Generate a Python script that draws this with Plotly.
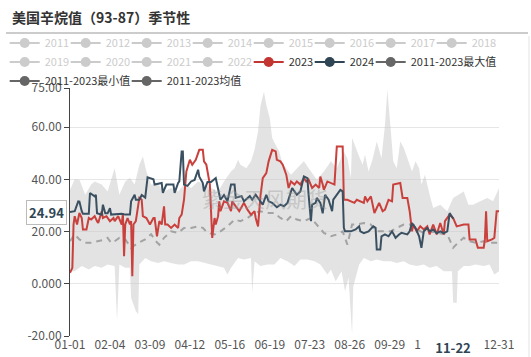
import numpy as np
import plotly.graph_objects as go

# ---------------- data (day index from 01-01, value) ----------------
years_hidden = ["2011", "2012", "2013", "2014", "2015", "2016", "2017", "2018",
                "2019", "2020", "2021", "2022"]

d2024 = [0, 4, 7, 8, 10, 11, 16, 17, 21, 22,
         23, 27, 28, 30, 32, 34, 35, 44, 47, 51,
         52, 55, 56, 59, 61, 64, 66, 71, 72, 78,
         79, 82, 88, 89, 92, 93, 95, 96, 97, 100,
         103, 106, 109, 110, 113, 114, 117, 120, 124, 126,
         128, 131, 134, 137, 140, 141, 146, 148, 153, 155,
         158, 161, 164, 167, 169, 172, 176, 179, 182, 185,
         189, 193, 196, 199, 202, 203, 205, 206, 209, 210,
         213, 215, 217, 220, 223, 224, 227, 230, 232, 233,
         234, 239, 243, 246, 247, 250, 254, 258, 260, 261,
         264, 265, 268, 271, 274, 277, 280, 282, 287, 289,
         291, 294, 297, 299, 301, 304, 306, 309, 312, 315,
         318, 321, 323, 326]
v2024 = [27.5, 27.8, 31.6, 31.5, 27.8, 26.8, 26.8, 34.8, 33.5, 34.1,
         27.0, 26.5, 30.3, 27.0, 27.0, 29.0, 26.5, 26.8, 26.5, 26.5,
         31.6, 34.1, 32.2, 32.2, 34.0, 33.0, 40.8, 40.0, 38.0, 38.6,
         34.8, 38.0, 38.0, 34.8, 38.6, 39.2, 50.7, 50.7, 38.0, 37.5,
         39.2, 39.8, 43.7, 41.0, 38.6, 35.4, 39.0, 39.0, 40.5, 36.7,
         32.2, 34.0, 31.6, 38.0, 38.0, 33.0, 33.6, 31.6, 33.6, 32.2,
         34.1, 32.2, 30.3, 34.1, 31.6, 31.0, 29.3, 30.3, 29.7, 31.0,
         36.7, 34.1, 35.4, 41.1, 40.5, 34.1, 24.0, 30.3, 31.0, 32.9,
         31.0, 27.0, 34.1, 32.2, 27.8, 32.2, 34.1, 36.0, 35.4, 21.4,
         20.1, 20.1, 20.8, 22.0, 20.1, 19.4, 20.1, 22.0, 21.4, 13.1,
         13.1, 18.2, 18.9, 18.2, 20.1, 17.6, 18.9, 19.5, 18.9, 20.1,
         23.3, 21.4, 18.2, 13.8, 20.1, 21.4, 20.1, 20.8, 19.4, 20.1,
         19.4, 20.1, 27.1, 24.94]

d2023 = [0, 2, 3, 4, 6, 7, 8, 10, 11, 14,
         16, 18, 21, 23, 24, 27, 28, 31, 34, 37,
         38, 41, 44, 45, 46, 47, 49, 51, 52, 53,
         54, 56, 59, 61, 62, 65, 68, 71, 72, 74,
         76, 78, 80, 81, 83, 86, 89, 92, 93, 95,
         97, 99, 102, 104, 107, 110, 113, 114, 116, 119,
         120, 121, 123, 124, 126, 127, 128, 131, 134, 137,
         138, 141, 144, 148, 151, 154, 157, 158, 160, 162,
         164, 167, 169, 172, 175, 176, 179, 181, 184, 186,
         188, 191, 193, 196, 199, 201, 203, 206, 209, 212,
         213, 215, 216, 219, 222, 225, 227, 232, 233, 236,
         239, 242, 244, 247, 250, 251, 253, 256, 259, 263,
         266, 268, 271, 274, 275, 281, 283, 287, 289, 291,
         292, 295, 298, 301, 304, 306, 309, 312, 315, 318,
         319, 323, 326, 329, 335, 339, 340, 345, 347, 352,
         353, 354, 355, 359, 361, 363, 365]
v2023 = [4.2, 6.1, 22.7, 25.9, 22.7, 24.6, 27.1, 25.2, 20.8, 20.8,
         25.2, 24.6, 25.9, 24.0, 23.3, 27.8, 25.2, 25.9, 24.0, 25.2,
         24.0, 25.9, 22.7, 27.1, 10.6, 22.7, 25.2, 22.7, 24.0, 2.9,
         22.7, 24.0, 32.9, 32.2, 25.9, 25.2, 22.7, 25.2, 25.2, 18.2,
         24.0, 22.7, 29.7, 22.7, 22.7, 21.4, 22.7, 21.4, 25.2, 26.5,
         32.2, 43.0, 47.5, 45.6, 47.5, 51.3, 51.3, 46.9, 45.6, 38.0,
         27.8, 17.6, 25.2, 22.7, 25.9, 31.6, 27.8, 31.6, 31.0, 27.8,
         31.6, 29.7, 27.8, 31.0, 28.4, 26.5, 27.8, 25.2, 22.0, 33.5,
         40.5, 42.4, 46.9, 51.3, 50.7, 47.5, 46.9, 45.6, 41.8, 36.7,
         39.2, 38.0, 39.2, 38.0, 40.5, 39.2, 39.9, 36.7, 38.0, 36.7,
         41.1, 38.0, 36.0, 39.2, 38.6, 38.0, 52.6, 52.6, 32.2, 32.2,
         31.6, 31.0, 32.2, 31.6, 31.0, 33.5, 31.6, 33.5, 27.1, 31.0,
         27.8, 28.4, 32.2, 31.6, 38.0, 38.6, 32.9, 32.9, 27.8, 20.1,
         22.7, 20.1, 22.0, 20.8, 22.0, 18.9, 22.7, 18.9, 23.3, 18.9,
         24.0, 26.5, 25.2, 22.0, 22.7, 22.7, 17.0, 17.0, 13.8, 13.8,
         17.0, 27.8, 16.3, 17.0, 17.6, 27.8, 27.8]

d_mean = [0, 4, 8, 13, 18, 24, 30, 32, 35, 38,
          42, 47, 52, 58, 64, 69, 73, 76, 80, 86,
          92, 97, 103, 109, 113, 117, 123, 128, 134, 140,
          145, 151, 157, 162, 168, 174, 179, 184, 188, 193,
          199, 205, 210, 216, 222, 227, 232, 236, 240, 244,
          250, 256, 261, 267, 273, 278, 284, 289, 295, 301,
          306, 312, 321, 326, 330, 335, 340, 345, 352, 357,
          365]
v_mean = [16.3, 18.9, 17.0, 15.7, 15.7, 16.3, 17.0, 17.6, 15.7, 16.3,
          17.6, 17.0, 13.8, 15.7, 17.0, 19.0, 16.3, 15.0, 17.6, 20.1,
          19.5, 21.4, 21.4, 22.0, 21.4, 19.5, 18.9, 20.1, 22.0, 24.6,
          24.0, 25.2, 27.1, 27.8, 27.1, 27.1, 25.2, 24.0, 25.9, 24.6,
          24.0, 25.2, 22.7, 19.5, 18.2, 18.9, 20.1, 15.0, 22.7, 22.7,
          23.3, 22.7, 20.1, 20.1, 20.1, 21.4, 22.7, 22.7, 20.8, 19.5,
          20.1, 19.5, 18.9, 13.8, 15.7, 17.6, 16.3, 15.7, 16.3, 15.7,
          15.7]

d_max = [0, 4, 8, 13, 18, 21, 27, 32, 38, 42,
         47, 51, 55, 59, 62, 65, 69, 75, 80, 86,
         92, 97, 103, 109, 114, 120, 126, 131, 137, 140,
         143, 145, 150, 154, 157, 160, 162, 165, 167, 170,
         172, 175, 178, 181, 184, 188, 193, 199, 205, 210,
         216, 222, 227, 233, 236, 239, 240, 243, 246, 249,
         251, 254, 257, 261, 265, 268, 270, 273, 275, 278,
         281, 284, 287, 291, 294, 297, 299, 302, 306, 309,
         315, 321, 326, 330, 335, 339, 343, 349, 355, 360,
         365]
v_max = [36.0, 40.0, 39.9, 34.1, 38.0, 39.2, 38.0, 35.4, 44.3, 34.1,
         39.2, 40.5, 38.0, 45.6, 48.8, 43.0, 38.0, 38.0, 35.4, 36.7,
         35.4, 38.0, 36.7, 39.2, 38.0, 36.7, 35.4, 39.2, 43.0, 44.3,
         47.5, 45.6, 44.3, 46.9, 51.3, 58.3, 67.9, 73.6, 68.5, 63.4,
         55.8, 53.2, 50.7, 45.6, 44.3, 41.8, 44.3, 46.9, 43.0, 39.9,
         43.0, 46.9, 44.3, 50.7, 48.1, 40.5, 55.8, 52.0, 48.8, 45.6,
         49.4, 43.0, 46.9, 54.5, 48.1, 60.9, 74.3, 58.3, 46.9, 44.3,
         54.5, 52.0, 48.1, 43.0, 46.9, 44.3, 38.0, 41.8, 34.1, 29.0,
         30.3, 27.8, 32.9, 34.1, 35.4, 30.3, 30.3, 31.6, 32.9, 31.6,
         36.7]

d_min = [0, 4, 10, 16, 21, 27, 32, 38, 40, 42,
         47, 51, 52, 54, 56, 58, 59, 64, 69, 75,
         80, 86, 92, 97, 103, 109, 114, 120, 126, 131,
         134, 137, 143, 148, 154, 155, 157, 162, 168, 174,
         179, 185, 191, 196, 202, 208, 213, 219, 222, 226,
         231, 234, 237, 240, 241, 246, 250, 256, 261, 267,
         273, 278, 284, 289, 295, 301, 306, 312, 318, 325,
         326, 329, 330, 335, 340, 345, 352, 357, 361, 365]
v_min = [4.8, 4.8, 6.8, 5.5, 6.8, 6.1, 7.4, 6.8, -14.0, 7.4,
         6.1, 6.1, -5.3, -7.8, -10.4, -11.7, 7.4, 9.9, 8.6, 8.0,
         8.6, 8.0, 7.4, 7.4, 8.6, 8.6, 8.0, 7.4, 6.8, 6.1,
         3.6, 6.1, 9.9, 9.3, 9.9, -3.4, 8.6, 6.8, 7.4, 7.4,
         9.9, 8.6, 6.8, 9.3, 9.3, 8.6, 7.4, 3.6, 5.5, 1.0,
         4.8, -2.8, 2.3, -19.4, -1.0, 7.4, 9.9, 8.6, 9.3, 8.6,
         8.6, 8.0, 8.6, 7.4, 6.8, 7.4, 6.1, 6.8, 4.8, 4.8,
         -7.3, -7.3, 4.8, 6.8, 6.8, 7.4, 6.8, 7.4, 3.6, 4.8]

tick_labels = ["01-01", "02-04", "03-09", "04-12", "05-16", "06-19",
               "07-23", "08-26", "09-29", "11-02", "12-31"]
y_ticks = [-20, 0, 20, 40, 60, 75]
y_tick_text = ["-20.00", "0.000", "20.00", "40.00", "60.00", "75.00"]
pointer_date = "11-22"
pointer_value = "24.94"

# ---------------- helpers ----------------
BASE = np.datetime64("2024-01-01")


def to_dates(days):
    return [str(BASE + np.timedelta64(int(d), "D")) for d in days]


def md(s):
    return "2024-" + s


FONT = "Noto Sans CJK SC, Noto Sans, sans-serif"
RED = "#c9403c"
DARK = "#3a5061"

W, H = 531, 357
L, R, T, B = 70, 32, 88, 21
PW, PH = W - L - R, H - T - B


def px_x(x):
    return (x - L) / PW


def px_y(y):
    return (H - B - y) / PH


fig = go.Figure()

# band (min -> max)
fig.add_trace(go.Scatter(x=to_dates(d_min), y=v_min, mode="lines",
                         line=dict(width=0, color="#666"), showlegend=False,
                         legendgroup="min", hoverinfo="skip"))
fig.add_trace(go.Scatter(x=to_dates(d_max), y=v_max, mode="lines",
                         line=dict(width=0, color="#666"), fill="tonexty",
                         fillcolor="rgba(200,200,200,0.5)", showlegend=False,
                         legendgroup="max", hoverinfo="skip"))
# mean
fig.add_trace(go.Scatter(x=to_dates(d_mean), y=v_mean, mode="lines",
                         line=dict(width=2, color="#a3a3a3", dash="6px,5px"),
                         showlegend=False, legendgroup="mean"))
# 2023 / 2024
fig.add_trace(go.Scatter(x=to_dates(d2023), y=v2023, mode="lines",
                         line=dict(width=2, color=RED), showlegend=False,
                         legendgroup="2023"))
fig.add_trace(go.Scatter(x=to_dates(d2024), y=v2024, mode="lines",
                         line=dict(width=2, color=DARK), showlegend=False,
                         legendgroup="2024"))


# legend entries
def legend_entry(name, color, legend, width, hidden=False, group=None):
    fig.add_trace(go.Scatter(
        x=[None], y=[None], name=name, mode="lines+markers",
        line=dict(color=color, width=2), marker=dict(color=color, size=10),
        legend=legend, legendwidth=width, legendgroup=group or name,
        visible="legendonly" if hidden else True))


for i, yname in enumerate(years_hidden[:8]):
    legend_entry(yname, "#999", "legend", 26 if i == 7 else 16, hidden=True)
for i, yname in enumerate(years_hidden[8:]):
    legend_entry(yname, "#999", "legend2", 26 if i == 3 else 16, hidden=True)
legend_entry("2023", "#c23531", "legend3", 16)
legend_entry("2024", "#2f4554", "legend3", 16)
legend_entry("2011-2023最大值", "#666", "legend3", 90, group="max")
legend_entry("2011-2023最小值", "#666", "legend4", 77, group="min")
legend_entry("2011-2023均值", "#666", "legend4", 80, group="mean")


def leg(icon_x, y_px, color):
    return dict(orientation="h", xref="paper", yref="paper",
                x=px_x(icon_x - 22), y=px_y(y_px), xanchor="left",
                yanchor="middle", bgcolor="rgba(0,0,0,0)", itemwidth=30,
                font=dict(family=FONT, size=11, color=color),
                tracegroupgap=0)


xr = [md("01-01"), md("12-31")]
tickvals = [md(t) for t in tick_labels]

fig.update_layout(
    width=W, height=H,
    margin=dict(l=L, r=R, t=T, b=B, autoexpand=False),
    paper_bgcolor="white", plot_bgcolor="white",
    title=dict(text="<b>美国辛烷值（93-87）季节性</b>", x=12 / W, xanchor="left",
               xref="container", y=1 - 18 / H, yanchor="middle",
               font=dict(family=FONT, size=14, color="#333")),
    legend=leg(26.7, 43, "#999"),
    legend2=leg(26.7, 62, "#999"),
    legend3=leg(270.7, 62, "#333"),
    legend4=leg(26.7, 81, "#333"),
    xaxis=dict(type="date", range=xr, tickvals=tickvals, ticktext=tick_labels,
               showgrid=False, zeroline=False, showline=False, ticks="",
               tickfont=dict(family=FONT, size=12, color="#555")),
    xaxis2=dict(type="date", range=xr, overlaying="x", anchor="free",
                position=20 / 95, tickvals=tickvals, showticklabels=False,
                showgrid=False, zeroline=False, showline=True,
                linecolor="#444", linewidth=1, ticks="outside", ticklen=5,
                tickcolor="#444"),
    yaxis=dict(range=[-20, 75], tickvals=y_ticks, ticktext=y_tick_text,
               showgrid=True, gridcolor="#e6e6e6", zeroline=False,
               showline=True, linecolor="#444", ticks="outside", ticklen=5,
               tickcolor="#444",
               tickfont=dict(family=FONT, size=12, color="#555")),
    hovermode=False,
    shapes=[
        dict(type="line", xref="paper", yref="paper",
             x0=px_x(6), x1=px_x(528), y0=px_y(33), y1=px_y(33),
             line=dict(color="#999", width=1)),
        dict(type="line", xref="paper", yref="paper",
             x0=px_x(529), x1=px_x(529), y0=px_y(36), y1=px_y(357),
             line=dict(color="#e3e3e3", width=1)),
    ],
    annotations=[
        dict(text="紫金天风期货", xref="paper", yref="paper",
             x=px_x(265), y=px_y(198), showarrow=False,
             font=dict(family=FONT, size=21, color="rgba(150,150,150,0.4)")),
        dict(text="<b>" + pointer_value + "</b>", xref="paper", yref="y",
             x=0, y=27.2, xanchor="right", xshift=-3, showarrow=False,
             bgcolor="white", bordercolor="#bbb", borderwidth=1, borderpad=2,
             font=dict(family=FONT, size=13, color="#2f4554")),
        dict(text="<b>" + pointer_date + "</b>", xref="x", yref="paper",
             x=md(pointer_date), y=px_y(347), yanchor="middle",
             showarrow=False, width=60, bgcolor="white", borderpad=1,
             font=dict(family=FONT, size=13, color="#2f4554")),
    ],
)

fig.write_html("out.html", config={"displayModeBar": False},
               post_script="document.body.style.margin='0';"
                           "document.body.style.overflow='hidden';")
